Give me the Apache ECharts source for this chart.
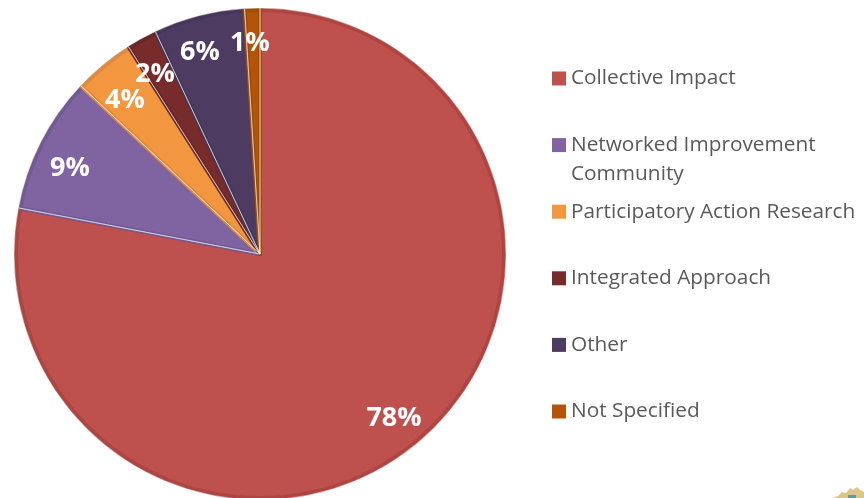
<!DOCTYPE html>
<html>
<head>
<meta charset="utf-8">
<style>html,body{margin:0;padding:0;background:#fff}#chart{width:864px;height:498px}</style>
<script src="https://cdn.jsdelivr.net/npm/echarts@6/dist/echarts.min.js"></script>
</head>
<body>
<div id="chart"></div>
<script>
// Approaches used, as a share of all initiatives (percent)
const categories = ['Collective Impact', 'Networked Improvement\nCommunity', 'Participatory Action Research', 'Integrated Approach', 'Other', 'Not Specified'];
const shares = [78, 9, 4, 2, 6, 1];

const fillColors = ['#BE504D', '#8064A2', '#F2963F', '#772B2A', '#4E3B62', '#B35409'];
const edgeColors = ['#AD4542', '#735A93', '#DE8A40', '#6B2626', '#463658', '#A04B08'];
const labelCentres = [[394, 418], [70, 168], [125, 100], [155, 74], [200, 52], [250, 43]];

const fontName = '"Open Sans", sans-serif';
const centre = [260, 254];
const outerRadius = 244;

const slices = categories.map((name, i) => ({
  name,
  value: shares[i],
  itemStyle: { color: fillColors[i], borderColor: edgeColors[i] }
}));

const chart = echarts.init(document.getElementById('chart'), null, { renderer: 'canvas' });
chart.setOption({
  animation: false,
  backgroundColor: '#ffffff',
  legend: {
    orient: 'vertical',
    left: 547,
    top: 30,
    itemWidth: 14,
    itemHeight: 14,
    itemGap: -20.4,
    icon: 'rect',
    selectedMode: false,
    data: categories,
    itemStyle: { borderWidth: 0 },
    // Every entry takes three text lines so its first name line sits level with the swatch
    formatter: name => {
      const parts = name.split('\n');
      return '\n' + parts[0] + '\n' + (parts[1] || ' ');
    },
    textStyle: { fontFamily: fontName, fontSize: 20.8, color: '#595959', lineHeight: 29 }
  },
  series: [
    {
      type: 'pie',
      center: centre,
      radius: outerRadius,
      startAngle: 90,
      silent: true,
      data: slices,
      itemStyle: { borderWidth: 4 },
      emphasis: { disabled: true },
      labelLine: { show: false },
      label: {
        show: true,
        position: 'inside',
        formatter: '{c}%',
        fontFamily: fontName,
        fontWeight: 'bold',
        fontSize: 27,
        color: '#ffffff'
      },
      labelLayout: params => {
        const c = labelCentres[params.dataIndex];
        return { x: c[0], y: c[1], align: 'center', verticalAlign: 'middle' };
      },
      z: 2
    },
    {
      // Thin pale seam between neighbouring slices, its rim lying on the pie's outer edge
      type: 'pie',
      center: centre,
      radius: outerRadius + 2,
      startAngle: 90,
      silent: true,
      data: categories.map((name, i) => ({ name, value: shares[i] })),
      itemStyle: { color: 'rgba(0,0,0,0)', borderColor: 'rgba(255,255,255,0.45)', borderWidth: 1 },
      emphasis: { disabled: true },
      label: { show: false },
      labelLine: { show: false },
      legendHoverLink: false,
      z: 3
    }
  ],
  graphic: [
    {
      // Crest fragment in the lower right corner
      type: 'polygon',
      silent: true,
      shape: { points: [[832, 498], [838, 496], [842, 492], [846, 493], [850, 488], [853, 490], [857, 487], [860, 490], [864, 492], [864, 498]] },
      style: { fill: '#DCC588' }
    },
    {
      type: 'rect',
      silent: true,
      shape: { x: 848, y: 495, width: 8, height: 3 },
      style: { fill: '#5E9C94' }
    }
  ]
});
</script>
</body>
</html>
